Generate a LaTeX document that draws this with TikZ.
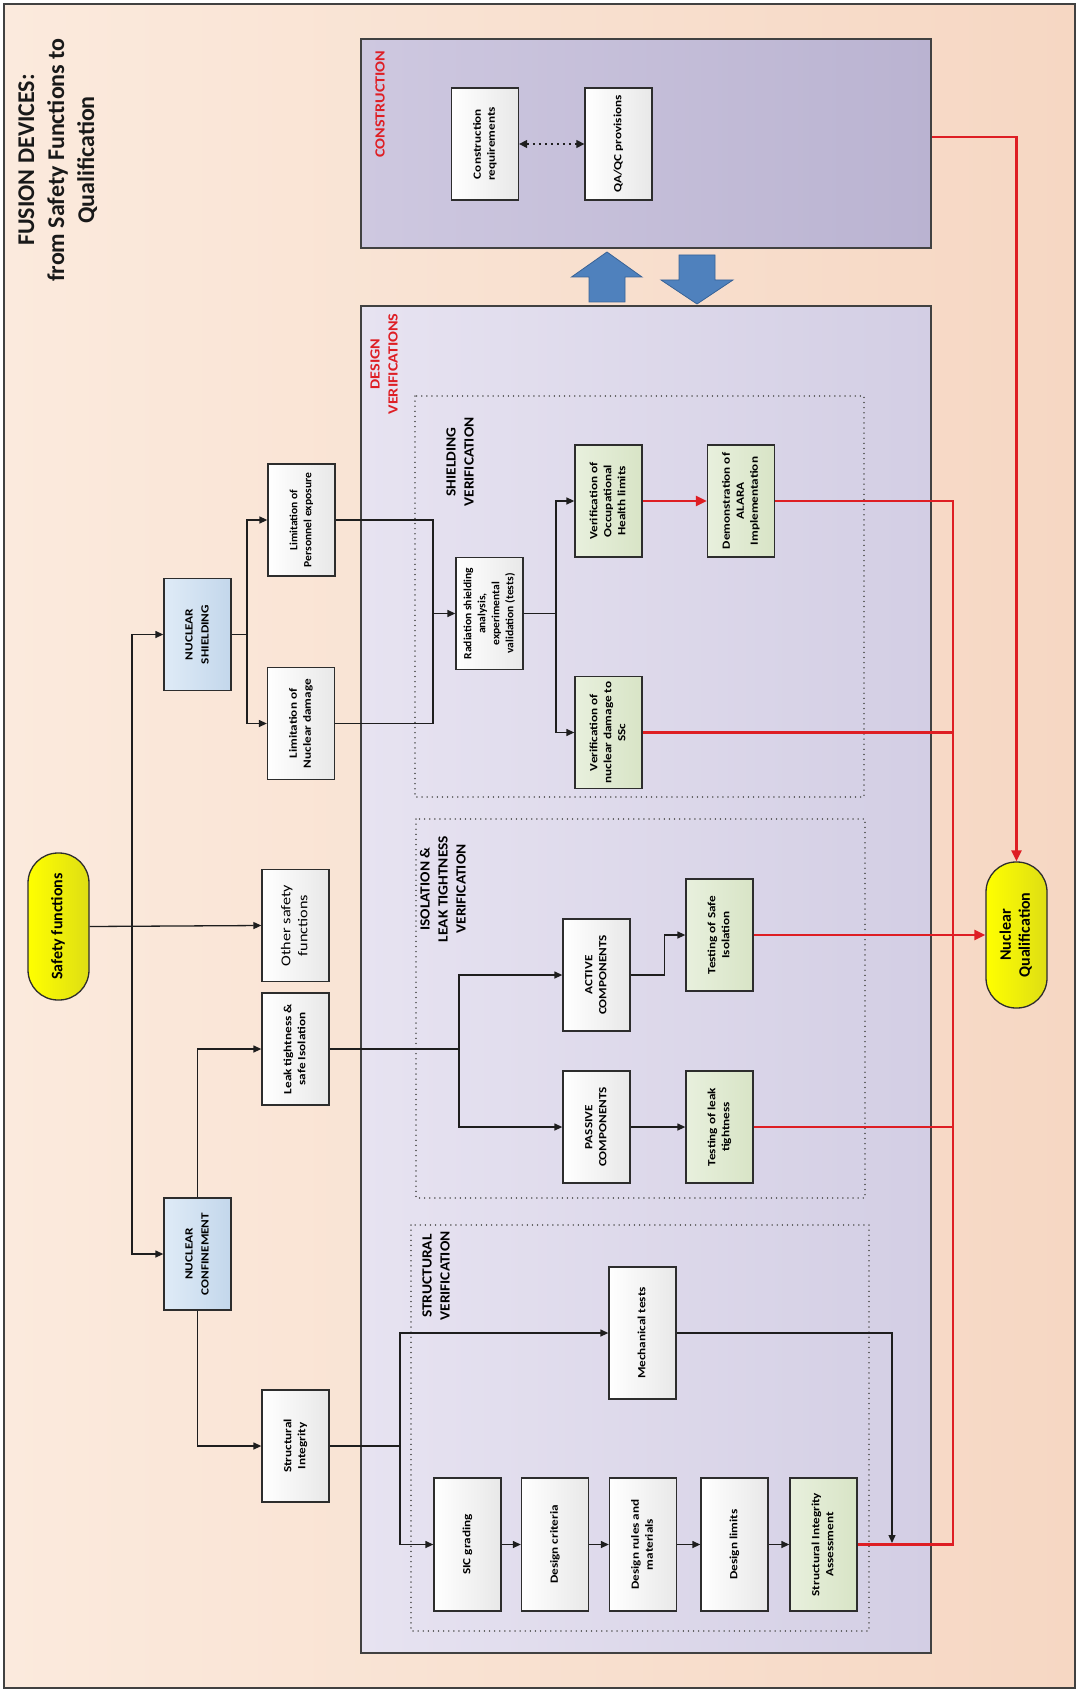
\documentclass[tikz,border=0pt]{standalone}
\usepackage{fontspec}
\setmainfont{Carlito}
\usepackage{graphicx}
\usetikzlibrary{arrows.meta, positioning, calc}
\definecolor{bgL}{RGB}{251,234,221}
\definecolor{bgR}{RGB}{246,215,195}
\definecolor{conL}{RGB}{206,200,224}
\definecolor{conR}{RGB}{186,179,209}
\definecolor{desL}{RGB}{231,227,241}
\definecolor{desR}{RGB}{211,206,228}
\definecolor{blueL}{RGB}{223,235,247}
\definecolor{blueR}{RGB}{195,215,235}
\definecolor{greenL}{RGB}{232,240,221}
\definecolor{greenR}{RGB}{216,228,198}
\definecolor{boxgray}{RGB}{232,232,232}
\definecolor{pillL}{RGB}{255,255,0}
\definecolor{pillR}{RGB}{222,222,20}
\definecolor{boxline}{RGB}{45,45,45}
\definecolor{frameline}{RGB}{65,65,65}
\definecolor{linedark}{RGB}{30,30,30}
\definecolor{dotgray}{RGB}{90,90,90}
\definecolor{myred}{RGB}{222,30,36}
\definecolor{arrowblue}{RGB}{79,129,189}
\definecolor{arrowedge}{RGB}{56,98,150}
\newcommand{\boxfont}{\fontsize{11}{14}\selectfont\bfseries}
\newcommand{\bluefont}{\fontsize{11}{16}\selectfont\bfseries}
\newcommand{\pillfont}{\fontsize{16}{19}\selectfont\bfseries}
\newcommand{\grpfont}{\fontsize{14}{18}\selectfont\bfseries}
% upright text turned to read bottom-to-top, stretched along the reading direction
\newcommand{\vtxt}[2][1]{\rotatebox{90}{\scalebox{#1}[1]{\begin{tabular}{@{}c@{}}#2\end{tabular}}}}
\newcommand{\btxt}[1]{\vtxt[1.2]{#1}}
\tikzset{
  box/.style={rectangle, draw=boxline, left color=white, right color=boxgray,
    minimum width=67pt, minimum height=112pt, inner sep=0pt,
    line width=1.3pt, font=\boxfont},
  greenbox/.style={box, left color=greenL, right color=greenR},
  bluebox/.style={box, left color=blueL, right color=blueR, font=\bluefont},
  chainbox/.style={box, minimum height=133pt},
  pill/.style={rectangle, rounded corners=30pt, draw=boxline,
    left color=pillL, right color=pillR, minimum width=61pt,
    minimum height=147pt, inner sep=0pt, line width=1.3pt, font=\pillfont},
  bigframe/.style={rectangle, draw=frameline, line width=2pt, inner sep=0pt},
  groupframe/.style={draw=dotgray, line width=1.4pt,
    dash pattern=on 0.1pt off 5pt, line cap=round},
  grouplabel/.style={font=\grpfont, text=black},
  redlabel/.style={font=\grpfont, text=myred},
  titletext/.style={font=\fontsize{24}{30}\selectfont\bfseries, text=black!90},
  arrow/.style={-{Triangle[length=8pt,width=7pt]}, line width=1.3pt, color=linedark},
  line/.style={line width=1.3pt, color=linedark},
  redline/.style={line width=2.4pt, color=myred},
  redarrow/.style={redline, -{Triangle[length=11pt,width=10pt]}},
  dotarrow/.style={{Triangle[length=8pt,width=8pt]}-{Triangle[length=8pt,width=8pt]},
    line width=1.2pt, color=linedark, dash pattern=on 2pt off 4pt},
  bigarrow/.style={fill=arrowblue, draw=arrowedge, line width=0.8pt}
}

\begin{document}
\begin{tikzpicture}[x=1pt, y=-1pt]
  \useasboundingbox (0,0) rectangle (1080,1693);
  % Background and title
  \draw[bigframe, left color=bgL, right color=bgR] (4,4) rectangle (1075,1688);
  \node[titletext] (title) at (58,160) {\vtxt{FUSION DEVICES:\\from Safety Functions to\\Qualification}};

  % Construction and design areas
  \node[bigframe, left color=conL, right color=conR, minimum width=570pt, minimum height=209pt] (constr) at (646,143.5) {};
  \node[bigframe, left color=desL, right color=desR, minimum width=570pt, minimum height=1347pt] (design) at (646,979.5) {};
  \node[redlabel] (constrlbl) at (381,104) {\vtxt[1.15]{CONSTRUCTION}};
  \node[redlabel] (designlbl) at (385,364) {\vtxt[1.15]{DESIGN\\VERIFICATIONS}};

  % Construction boxes
  \node[box] (creq) at (485,144) {\btxt{Construction\\requirements}};
  \node[box] (qaqc) at (618.5,144) {\btxt{QA/QC provisions}};
  \draw[dotarrow] (creq.east) -- (qaqc.west);

  % Exchange arrows
  \draw[bigarrow] (589,302) -- (589,277) -- (571.5,277) -- (607,252) -- (642,277) -- (625,277) -- (625,302) -- cycle;
  \draw[bigarrow] (679,255) -- (715,255) -- (715,280) -- (733,280) -- (697,304) -- (661,280) -- (679,280) -- cycle;

  % Verification groups
  \draw[groupframe] (415,396) rectangle (864,797);
  \draw[groupframe] (416,819) rectangle (865,1198);
  \draw[groupframe] (411,1225) rectangle (869,1631);
  \node[grouplabel] (shieldlbl) at (461,462) {\vtxt[1.1]{SHIELDING\\VERIFICATION}};
  \node[grouplabel] (isollbl) at (444,889) {\vtxt[1.1]{ISOLATION \&\\LEAK TIGHTNESS\\VERIFICATION}};
  \node[grouplabel] (structlbl) at (437,1276) {\vtxt[1.1]{STRUCTURAL\\VERIFICATION}};

  % Safety functions tree
  \node[pill] (sf) at (58.5,926.5) {\vtxt{Safety functions}};
  \node[box, font=\fontsize{13.5}{17}\selectfont] (other) at (295.5,925.5) {\vtxt[1.2]{Other safety\\functions}};
  \node[bluebox] (nshield) at (197.5,634.5) {\btxt{NUCLEAR\\SHIELDING}};
  \node[bluebox] (nconf) at (197.5,1254) {\btxt{NUCLEAR\\CONFINEMENT}};
  \node[box] (limpers) at (301.5,520) {\vtxt[1.05]{Limitation of\\Personnel exposure}};
  \node[box] (limnuc) at (301,723.5) {\btxt{Limitation of\\Nuclear damage}};
  \node[box] (leak) at (295.5,1049) {\btxt{Leak tightness \&\\safe Isolation}};
  \node[box] (strint) at (295.5,1446) {\btxt{Structural\\Integrity}};
  \coordinate (trunk) at (132,926.5);
  \draw[arrow] (sf.east) -- (other.west);
  \draw[arrow] (trunk) |- (nshield.west);
  \draw[arrow] (trunk) |- (nconf.west);
  \draw[arrow] (nconf.north) |- (leak.west);
  \draw[arrow] (nconf.south) |- (strint.west);
  \coordinate (nsplit) at (247,634.5);
  \draw[line] (nshield.east) -- (nsplit);
  \draw[arrow] (nsplit) |- (limpers.west);
  \draw[arrow] (nsplit) |- (limnuc.west);

  % Shielding verification
  \node[box] (radsh) at (489.5,613.5) {\vtxt[1.05]{Radiation shielding\\analysis,\\experimental\\validation (tests)}};
  \node[greenbox] (veroh) at (608.5,501) {\btxt{Verification of\\Occupational\\Health limits}};
  \node[greenbox] (vernuc) at (608.5,732.5) {\btxt{Verification of\\nuclear damage to\\SSc}};
  \node[greenbox] (alara) at (741,501) {\btxt{Demonstration of\\ALARA\\Implementation}};
  \coordinate (rsplit) at (433,613.5);
  \draw[line] (limpers.east) -| (rsplit);
  \draw[line] (limnuc.east) -| (rsplit);
  \draw[arrow] (rsplit) -- (radsh.west);
  \coordinate (vsplit) at (556,613.5);
  \draw[line] (radsh.east) -- (vsplit);
  \draw[arrow] (vsplit) |- (veroh.west);
  \draw[arrow] (vsplit) |- (vernuc.west);
  \draw[redarrow] (veroh.east) -- (alara.west);

  % Isolation and leak tightness verification
  \node[box] (active) at (596.5,975) {\btxt{ACTIVE\\COMPONENTS}};
  \node[box] (passive) at (596.5,1127) {\btxt{PASSIVE\\COMPONENTS}};
  \node[greenbox] (tsafe) at (719.5,935) {\btxt{Testing of Safe\\Isolation}};
  \node[greenbox] (tleak) at (719.5,1127) {\btxt{Testing of leak\\tightness}};
  \coordinate (isplit) at (459,1049);
  \draw[line] (leak.east) -- (isplit);
  \draw[arrow] (isplit) |- (active.west);
  \draw[arrow] (isplit) |- (passive.west);
  \draw[arrow] (active.east) -- ++(34,0) |- (tsafe.west);
  \draw[arrow] (passive.east) -- (tleak.west);

  % Structural verification
  \node[box, minimum height=132pt] (mech) at (642.5,1333) {\btxt{Mechanical tests}};
  \node[chainbox] (sic) at (467.5,1544.5) {\btxt{SIC grading}};
  \node[chainbox] (dcrit) at (555,1544.5) {\btxt{Design criteria}};
  \node[chainbox] (drules) at (643,1544.5) {\btxt{Design rules and\\materials}};
  \node[chainbox] (dlim) at (734.5,1544.5) {\btxt{Design limits}};
  \node[chainbox, left color=greenL, right color=greenR] (sia) at (823.5,1544.5) {\btxt{Structural Integrity\\Assessment}};
  \coordinate (ssplit) at (400,1446);
  \draw[line] (strint.east) -- (ssplit);
  \draw[arrow] (ssplit) |- (mech.west);
  \draw[arrow] (ssplit) |- (sic.west);
  \foreach \a/\b in {sic/dcrit, dcrit/drules, drules/dlim, dlim/sia} {
    \draw[arrow] (\a.east) -- (\b.west);
  }
  \coordinate (mechend) at (892,1543);
  \draw[arrow] (mech.east) -| (mechend);

  % Qualification
  \node[pill, minimum height=146pt] (nq) at (1016.5,935) {\vtxt{Nuclear\\Qualification}};
  \coordinate (bus) at (953,935);
  \foreach \n in {alara, vernuc, tleak, sia} {
    \draw[redline] (\n.east) -| (bus);
  }
  \draw[redarrow] (tsafe.east) -- (nq.west);
  \draw[redarrow] ([yshift=6.5pt]constr.east) -| (nq.north);
\end{tikzpicture}
\end{document}
